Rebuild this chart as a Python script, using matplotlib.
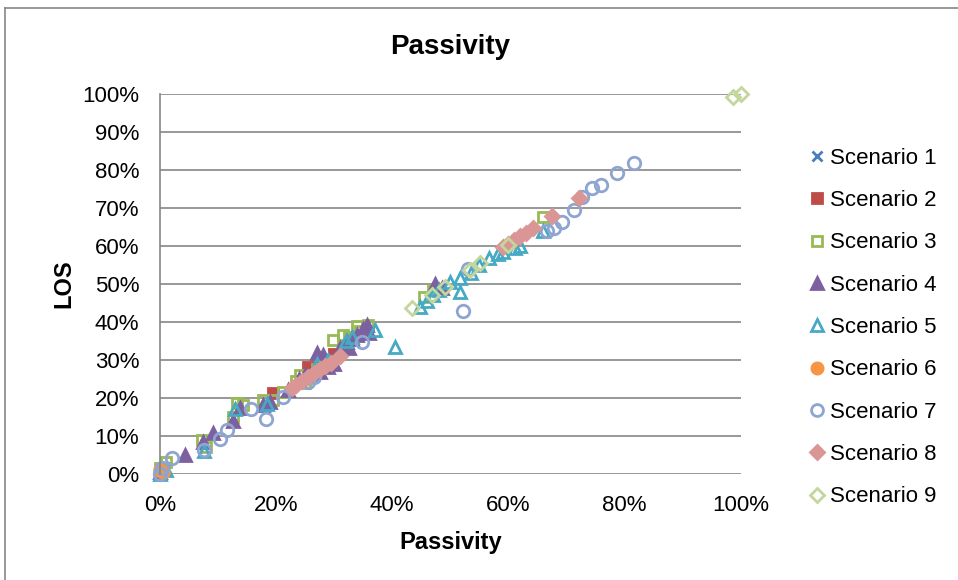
import matplotlib.pyplot as plt
from matplotlib.lines import Line2D
from matplotlib.ticker import PercentFormatter

plt.rcParams['font.family'] = ['Liberation Sans', 'DejaVu Sans']

# values (percent)
s1_x = [0.0, 0.4, 0.8]
s1_y = [0.0, 0.6, 1.2]

s2_x = [0.0, 0.5, 19.5, 25.5, 26.0, 28.0, 30.0]
s2_y = [0.5, 1.5, 21.3, 28.2, 27.0, 29.0, 31.5]

s3_x = [0.0, 1.0, 7.2, 8.0, 12.6, 13.2, 14.3, 17.8, 19.5, 21.2, 23.5, 24.1, 25.0,
        27.0, 29.0, 29.8, 31.6, 32.5, 33.9, 34.5, 35.9, 45.5, 47.0, 66.0]
s3_y = [1.5, 3.0, 8.9, 7.0, 15.0, 18.6, 18.2, 19.5, 19.5, 21.6, 24.5, 26.0, 24.0,
        27.5, 29.5, 35.2, 36.6, 36.0, 38.8, 37.5, 39.2, 46.5, 48.5, 67.5]

s4_x = [0.0, 4.3, 7.4, 9.2, 12.6, 13.8, 17.8, 19.0, 22.0, 24.0, 25.0, 27.0, 28.1,
        27.6, 29.0, 30.0, 31.0, 32.2, 32.5, 33.0, 34.0, 35.0, 35.6, 36.0, 47.4, 48.5]
s4_y = [0.5, 5.0, 8.5, 10.7, 13.8, 17.4, 18.2, 19.0, 22.0, 25.0, 26.0, 31.8, 31.3,
        26.9, 28.0, 29.0, 33.0, 34.8, 33.0, 35.5, 36.5, 38.0, 39.2, 37.0, 50.0, 49.0]

s5_x = [0.0, 1.0, 7.5, 13.0, 18.5, 26.0, 27.0, 29.0, 32.0, 33.0, 37.1, 40.5, 44.8,
        46.0, 47.0, 48.0, 50.0, 51.7, 51.7, 53.5, 55.0, 56.6, 58.3, 59.0, 61.2, 62.0, 66.0]
s5_y = [0.0, 1.0, 6.0, 17.0, 18.5, 26.0, 29.0, 30.0, 35.0, 36.0, 37.9, 33.4, 44.0,
        45.5, 47.0, 48.5, 50.6, 51.5, 48.0, 53.0, 55.0, 56.8, 58.0, 58.5, 59.5, 60.0, 64.0]

s6_x = [0.0, 0.5]
s6_y = [1.0, 0.5]

s7_x = [0.0, 0.3, 2.0, 7.5, 10.3, 11.5, 15.6, 18.3, 21.2, 25.5, 26.5, 34.8, 52.2,
        53.0, 66.6, 67.8, 69.3, 71.3, 72.7, 74.4, 75.9, 78.7, 81.6]
s7_y = [0.0, 1.6, 4.2, 6.2, 9.3, 11.6, 17.0, 14.5, 20.3, 24.3, 25.5, 34.8, 42.8,
        53.8, 63.9, 64.8, 66.4, 69.5, 73.0, 75.2, 76.0, 79.1, 81.9]

s8_x = [22.7, 23.5, 24.5, 25.5, 26.5, 27.5, 28.5, 29.5, 31.0, 59.1, 60.0, 61.0,
        62.0, 63.0, 64.3, 67.5, 72.1]
s8_y = [22.5, 23.5, 24.5, 25.5, 26.5, 27.5, 28.5, 29.3, 30.9, 59.8, 60.5, 61.5,
        62.5, 63.3, 64.7, 68.0, 72.6]

s9_x = [43.4, 46.8, 49.1, 53.4, 55.2, 60.0, 98.7, 100.0]
s9_y = [43.7, 47.1, 49.3, 53.7, 55.5, 60.3, 99.2, 100.0]

series = [
    ('Scenario 1', s1_x, s1_y, 'x', '#4A7EBB', '#4A7EBB', 7.5),
    ('Scenario 2', s2_x, s2_y, 's', '#BE4B48', '#BE4B48', 7.5),
    ('Scenario 3', s3_x, s3_y, 's', 'none', '#98B954', 7.5),
    ('Scenario 4', s4_x, s4_y, '^', '#7D60A0', '#7D60A0', 9),
    ('Scenario 5', s5_x, s5_y, '^', 'none', '#46AAC5', 9),
    ('Scenario 6', s6_x, s6_y, 'o', '#F69544', '#F69544', 8.5),
    ('Scenario 7', s7_x, s7_y, 'o', 'none', '#8EA5D1', 9),
    ('Scenario 8', s8_x, s8_y, 'D', '#D99694', '#D99694', 7.5),
    ('Scenario 9', s9_x, s9_y, 'D', 'none', '#C3D69B', 7.5),
]

fig = plt.figure(figsize=(9.58, 5.8), dpi=100)
ax = fig.add_axes([0.167, 0.183, 0.606, 0.655])

grid_col = '#868686'
for name, xs, ys, mk, fc, ec, ms in series:
    ax.plot(xs, ys, linestyle='none', marker=mk, markersize=ms,
            markerfacecolor=fc, markeredgecolor=ec, markeredgewidth=2,
            label=name, clip_on=False)

ax.set_xlim(0, 100)
ax.set_ylim(0, 100)
ax.set_xticks(range(0, 101, 20))
ax.set_yticks(range(0, 101, 10))
ax.xaxis.set_major_formatter(PercentFormatter(decimals=0))
ax.yaxis.set_major_formatter(PercentFormatter(decimals=0))
ax.tick_params(axis='y', length=0, labelsize=16, pad=15)
ax.tick_params(axis='x', length=0, labelsize=16, pad=15)
ax.yaxis.grid(True, color=grid_col, linewidth=1.2)
ax.set_axisbelow(True)
for side in ['top', 'right', 'bottom']:
    ax.spines[side].set_visible(False)
ax.spines['left'].set_color(grid_col)
ax.spines['left'].set_linewidth(1.2)

ax.set_title('Passivity', fontsize=20, fontweight='bold', pad=29)
ax.set_xlabel('Passivity', fontsize=17, fontweight='bold', labelpad=11)
ax.set_ylabel('LOS', fontsize=17, fontweight='bold', labelpad=5)

ax.legend(loc='center left', bbox_to_anchor=(1.105, 0.385), frameon=False,
          fontsize=16, markerscale=0.95, handlelength=0.6, handletextpad=0.3,
          labelspacing=0.96, borderaxespad=0)

# outer chart border (partly cropped in the reference)
fig.add_artist(Line2D([5 / 958, 5 / 958], [0, 1 - 8 / 580], color=grid_col, lw=1.2))
fig.add_artist(Line2D([5 / 958, 1], [1 - 8 / 580, 1 - 8 / 580], color=grid_col, lw=1.2))

fig.savefig('out.png', dpi=100)
